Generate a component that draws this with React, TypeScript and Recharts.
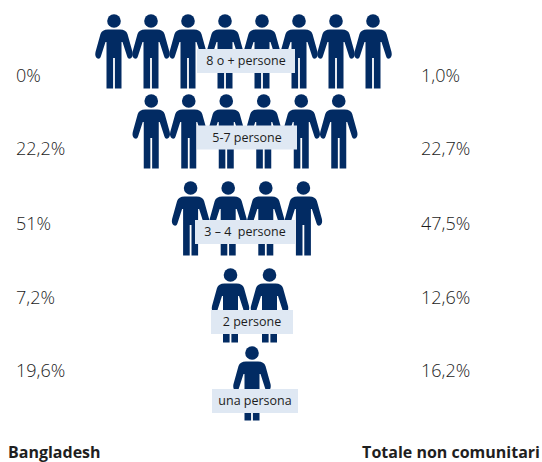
import React from 'react';
import { Scatter, ScatterChart, XAxis, YAxis } from 'recharts';

// values
const groups = ['8 o + persone', '5-7 persone', '3 – 4  persone', '2 persone', 'una persona'];
const peopleCounts = [8, 6, 4, 2, 1];
const bangladesh = ['0%', '22,2%', '51%', '7,2%', '19,6%'];
const totaleNonComunitari = ['1,0%', '22,7%', '47,5%', '12,6%', '16,2%'];
const columnTitles = ['Bangladesh', 'Totale non comunitari'];

// layout, in the chart's own 542x462 axis units
const W = 542;
const H = 462;
const rowCenterX = [243.5, 245, 247, 250, 252];
const rowHeadY = [21, 101, 188, 275, 353];
const rowGap = [37, 37.5, 37.6, 39, 0];
const labelCenterX = [246, 247, 245, 252, 255];
const labelCenterY = [61, 137.5, 232, 322, 401];
const labelWidth = [98, 100, 100, 82, 86];
const valueY = [76, 149, 224, 298, 371];

const NAVY = '#022B63';
const TEXT = '#1c1c1c';
const FONT = '"Open Sans", sans-serif';

const people = peopleCounts.flatMap((count, row) =>
    Array.from({ length: count }, (_, i) => ({
        x: rowCenterX[row] + (i - (count - 1) / 2) * rowGap[row],
        y: rowHeadY[row],
    })),
);
const labels = groups.map((name, row) => ({
    x: labelCenterX[row],
    y: labelCenterY[row],
    name,
    width: labelWidth[row],
}));
const leftValues = bangladesh.map((name, row) => ({ x: 16, y: valueY[row], name }));
const rightValues = totaleNonComunitari.map((name, row) => ({ x: 421, y: valueY[row], name }));
const titles = [
    { x: 8, y: 453, name: columnTitles[0], anchor: 'start' },
    { x: 540, y: 453, name: columnTitles[1], anchor: 'end' },
];

const BODY =
    'M-6 8.5 H6 C10 8.5 12.5 10 13.5 13 L18.5 31 C19.2 34 18.5 36.5 16.5 37.5 C14.5 38 13.5 37 13 35 ' +
    'L8.5 21 H7.5 V67.5 H0.9 V37 H-0.9 V67.5 H-7.5 V21 H-8.5 L-13 35 C-13.5 37 -14.5 38 -16.5 37.5 ' +
    'C-18.5 36.5 -19.2 34 -18.5 31 L-13.5 13 C-12.5 10 -10 8.5 -6 8.5 Z';

const Person = ({ cx, cy }: any) => (
    <g transform={`translate(${cx},${cy})`}>
        <circle r={6.8} fill={NAVY} />
        <path d={BODY} fill={NAVY} />
    </g>
);

const GroupLabel = ({ cx, cy, payload }: any) => (
    <g>
        <rect x={cx - payload.width / 2} y={cy - 12} width={payload.width} height={24} fill="#DFE8F3" />
        <text
            x={cx}
            y={cy + 4}
            textAnchor="middle"
            fontFamily={FONT}
            fontSize={12.5}
            fill={TEXT}
            style={{ whiteSpace: 'pre' }}
        >
            {payload.name}
        </text>
    </g>
);

const ValueText = ({ cx, cy, payload }: any) => (
    <text x={cx} y={cy + 6} fontFamily={FONT} fontSize={18} fontWeight={300} fill={TEXT}>
        {payload.name}
    </text>
);

const TitleText = ({ cx, cy, payload }: any) => (
    <text x={cx} y={cy + 5} textAnchor={payload.anchor} fontFamily={FONT} fontSize={16} fontWeight={700} fill="#1f1f1f">
        {payload.name}
    </text>
);

export default function App() {
    return (
        <div style={{ position: 'absolute', left: 0, top: 0, width: W, height: H, background: '#fff' }}>
            <ScatterChart width={W} height={H} margin={{ top: 0, right: 0, bottom: 0, left: 0 }}>
                <XAxis type="number" dataKey="x" domain={[0, W]} hide />
                <YAxis type="number" dataKey="y" domain={[0, H]} reversed hide />
                <Scatter data={people} shape={<Person />} isAnimationActive={false} />
                <Scatter data={labels} shape={<GroupLabel />} isAnimationActive={false} />
                <Scatter data={leftValues} shape={<ValueText />} isAnimationActive={false} />
                <Scatter data={rightValues} shape={<ValueText />} isAnimationActive={false} />
                <Scatter data={titles} shape={<TitleText />} isAnimationActive={false} />
            </ScatterChart>
        </div>
    );
}
